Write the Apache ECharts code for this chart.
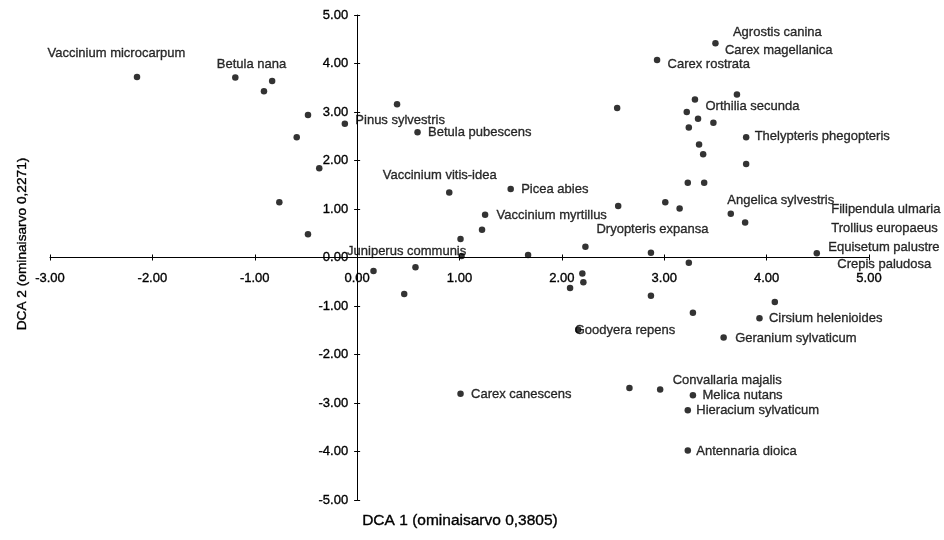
<!DOCTYPE html>
<html>
<head>
<meta charset="utf-8">
<title>DCA ordination</title>
<script src="https://cdn.jsdelivr.net/npm/echarts@6/dist/echarts.min.js"></script>
<style>
  html, body { margin: 0; padding: 0; background: #ffffff; }
  #chart { width: 944px; height: 540px; }
</style>
</head>
<body>
<div id="chart"></div>
<script>
// Sample/species scores on the first two DCA axes
const dca1 = [
  -2.15, -1.19, -0.83, -0.91, -0.48, -0.59, -0.37, -0.76, -0.48, -0.12,
   0.39,  0.59,  0.90,  1.01,  1.02,  0.16,  0.57,  0.46,  1.01,  3.50,
   2.93,  3.71,  3.30,  2.54,  3.22,  3.33,  3.48,  3.24,  3.80,  3.34,
   3.38,  3.80,  3.23,  3.39,  1.50,  2.55,  3.01,  3.15,  3.65,  3.79,
   1.25,  1.22,  2.23,  1.67,  2.87,  4.49,  3.24,  2.20,  2.21,  2.08,
   2.87,  4.08,  3.28,  3.93,  2.16,  3.58,  2.66,  2.96,  3.28,  3.23,
   3.23
];
const dca2 = [
   3.72,  3.71,  3.64,  3.43,  2.94,  2.48,  1.84,  1.14,  0.48,  2.76,
   3.16,  2.58,  1.34,  0.38,  0.03, -0.28, -0.20, -0.75, -2.81,  4.42,
   4.07,  3.36,  3.26,  3.08,  3.00,  2.86,  2.78,  2.68,  2.48,  2.33,
   2.13,  1.93,  1.54,  1.54,  1.41,  1.06,  1.14,  1.01,  0.90,  0.72,
   0.88,  0.57,  0.22,  0.05,  0.10,  0.09, -0.11, -0.33, -0.51, -0.63,
  -0.79, -0.92, -1.14, -1.25, -1.49, -1.65, -2.69, -2.72, -2.84, -3.15,
  -3.98
];

// Species names and the index of the score each one belongs to
const speciesNames = [
  'Vaccinium microcarpum', 'Betula nana', 'Pinus sylvestris', 'Betula pubescens',
  'Vaccinium vitis-idea', 'Juniperus communis', 'Carex canescens', 'Agrostis canina',
  'Carex magellanica', 'Carex rostrata', 'Orthilia secunda', 'Thelypteris phegopteris',
  'Picea abies', 'Vaccinium myrtillus', 'Dryopteris expansa', 'Angelica sylvestris',
  'Filipendula ulmaria', 'Trollius europaeus', 'Equisetum palustre', 'Crepis paludosa',
  'Cirsium helenioides', 'Goodyera repens', 'Geranium sylvaticum', 'Convallaria majalis',
  'Melica nutans', 'Hieracium sylvaticum', 'Antennaria dioica'
];
const speciesPoint = [
  0, 1, 9, 11, 12, 14, 18, 19, 19, 20, 22, 28, 34, 40, 44, 38,
  45, 45, 45, 45, 53, 54, 55, 57, 58, 59, 60
];

// Axis tick range and titles
const xTicks = { min: -3, max: 5, step: 1 };
const yTicks = { min: -5, max: 5, step: 1 };
const xTitle = 'DCA 1 (ominaisarvo 0,3805)';
const yTitle = 'DCA 2 (ominaisarvo 0,2271)';

// Label placement (pixel offset of the text's left/middle from its marker)
const labelOffset = [
  [-89, -23], [-18, -13], [11, -3], [11, 1], [-66, -17], [-114, -4], [11, 1], [18, -10],
  [10, 8], [11, 5], [11, 8], [9, 0], [11, 1], [12, 1], [-54, -23], [-3, -13],
  [15, -43], [15, -24], [12, -5], [21, 12], [10, 1], [-3, 1], [12, 1], [13, -8],
  [10, 1], [9, 1], [9, 1]
];

const FONT = '"Liberation Sans", Arial, Helvetica, sans-serif';
const INK = '#000000';
// thin outline in the text colour gives the heavier print look
const inkEdge = { textBorderColor: INK, textBorderWidth: 0.35 };

// Plot area
const W = 944, H = 540;
const grid = { left: 50, right: 75, top: 15, bottom: 40 };
const plotW = W - grid.left - grid.right;
const plotH = H - grid.top - grid.bottom;
// Shift the axes from the plot edges onto the zero lines of each other
const xAxisShift = -plotH * (0 - yTicks.min) / (yTicks.max - yTicks.min);
const yAxisShift = -plotW * (0 - xTicks.min) / (xTicks.max - xTicks.min);

const points = dca1.map((x, i) => [x, dca2[i]]);
const labelData = speciesNames.map((name, i) => {
  const p = points[speciesPoint[i]];
  return {
    name: name,
    value: [p[0], p[1]],
    label: { position: labelOffset[i] }
  };
});

const fmt = v => v.toFixed(2);
const axisFont = Object.assign({ color: INK, fontFamily: FONT, fontSize: 13 }, inkEdge);

function valueAxis(range, extra) {
  return Object.assign({
    type: 'value',
    min: range.min,
    max: range.max,
    interval: range.step,
    splitLine: { show: false },
    axisLine: { show: true, onZero: false, lineStyle: { color: '#000', width: 1 } },
    axisTick: { show: true, inside: false, length: 3, lineStyle: { color: '#000', width: 1 } },
    axisLabel: { show: false }
  }, extra);
}

const chart = echarts.init(document.getElementById('chart'), null, { renderer: 'canvas' });

chart.setOption({
  backgroundColor: '#ffffff',
  animation: false,
  grid: Object.assign({ containLabel: false }, grid),
  xAxis: [
    valueAxis(xTicks, {
      position: 'bottom', offset: xAxisShift,
      axisLabel: Object.assign({ show: true, formatter: fmt, margin: 14 }, axisFont)
    }),
    valueAxis(xTicks, {
      position: 'top', offset: -(plotH + xAxisShift),
      axisLine: { show: false, onZero: false }
    })
  ],
  yAxis: [
    valueAxis(yTicks, {
      position: 'left', offset: yAxisShift,
      axisLabel: Object.assign({ show: true, formatter: fmt, margin: 9 }, axisFont)
    }),
    valueAxis(yTicks, {
      position: 'right', offset: -(plotW + yAxisShift),
      axisLine: { show: false, onZero: false }
    }),
    // title-only axis along the left edge
    valueAxis(yTicks, {
      position: 'left', offset: 0,
      axisLine: { show: false, onZero: false },
      axisTick: { show: false },
      name: yTitle,
      nameLocation: 'middle',
      nameRotate: 90,
      nameGap: 21,
      nameTextStyle: Object.assign({ color: INK, fontFamily: FONT, fontSize: 13.7, padding: [0, 0, 0, 27] }, inkEdge)
    })
  ],
  graphic: [
    {
      type: 'text',
      left: 362,
      top: 513,
      style: { text: xTitle, fill: INK, stroke: INK, lineWidth: 0.35, font: '15.5px ' + FONT }
    }
  ],
  series: [
    {
      type: 'scatter',
      symbol: 'circle',
      symbolSize: 6.5,
      itemStyle: { color: '#000000' },
      data: points,
      z: 3
    },
    {
      type: 'scatter',
      symbol: 'circle',
      symbolSize: 1,
      itemStyle: { color: 'rgba(0,0,0,0)' },
      silent: true,
      data: labelData,
      label: Object.assign({
        show: true,
        align: 'left',
        verticalAlign: 'middle',
        formatter: '{b}',
        color: INK,
        fontFamily: FONT,
        fontSize: 13
      }, inkEdge),
      labelLayout: { hideOverlap: false },
      z: 4
    }
  ]
});
</script>
</body>
</html>
